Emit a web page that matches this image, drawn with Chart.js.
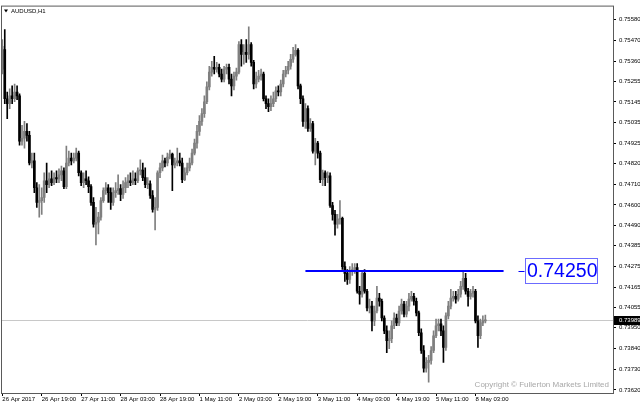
<!DOCTYPE html>
<html><head><meta charset="utf-8">
<script src="https://cdn.jsdelivr.net/npm/chart.js@4.4.1/dist/chart.umd.min.js"></script>
<style>html,body{margin:0;padding:0;background:#fff;overflow:hidden}#c{display:block}</style>
</head><body>
<canvas id="c" width="640" height="406"></canvas>
<script>
const symbolTitle = "AUDUSD,H1";
const copyrightText = "Copyright \u00A9 Fullerton Markets Limited";

const opens = [0.75319,0.75423,0.75162,0.75136,0.75177,0.75162,0.75198,0.75177,0.74937,0.74953,0.74989,0.74968,0.74822,0.74833,0.74691,0.74613,0.74623,0.74639,0.74728,0.74707,0.74738,0.74718,0.74744,0.74738,0.74759,0.74780,0.74697,0.74822,0.74848,0.74833,0.74848,0.74874,0.74770,0.74718,0.74738,0.74728,0.74697,0.74613,0.74498,0.74508,0.74535,0.74623,0.74676,0.74691,0.74665,0.74613,0.74665,0.74676,0.74686,0.74655,0.74691,0.74718,0.74728,0.74718,0.74738,0.74728,0.74780,0.74785,0.74744,0.74707,0.74712,0.74650,0.74576,0.74587,0.74770,0.74796,0.74833,0.74822,0.74853,0.74869,0.74812,0.74822,0.74833,0.74822,0.74733,0.74770,0.74796,0.74822,0.74874,0.74927,0.74989,0.75042,0.75083,0.75146,0.75225,0.75303,0.75329,0.75319,0.75329,0.75293,0.75266,0.75319,0.75329,0.75266,0.75230,0.75282,0.75303,0.75449,0.75397,0.75408,0.75397,0.75449,0.75355,0.75240,0.75266,0.75282,0.75293,0.75162,0.75136,0.75120,0.75136,0.75162,0.75204,0.75198,0.75240,0.75293,0.75313,0.75334,0.75371,0.75397,0.75418,0.75230,0.75162,0.75042,0.75110,0.75005,0.75031,0.74885,0.74927,0.74874,0.74733,0.74770,0.74744,0.74754,0.74597,0.74550,0.74498,0.74524,0.74529,0.74273,0.74237,0.74205,0.74247,0.74258,0.74268,0.74143,0.74127,0.74237,0.74143,0.74054,0.74064,0.73986,0.74038,0.74106,0.74090,0.74001,0.73933,0.73881,0.73892,0.73960,0.74001,0.73975,0.74038,0.74075,0.74022,0.74064,0.74101,0.74116,0.74090,0.74028,0.73923,0.73829,0.73735,0.73766,0.73777,0.73829,0.73907,0.73960,0.73970,0.73933,0.73845,0.74012,0.74064,0.74106,0.74116,0.74101,0.74127,0.74169,0.74211,0.74143,0.74116,0.74132,0.74143,0.73986,0.73907,0.73975,0.73986];
const highs = [0.75475,0.75528,0.75198,0.75214,0.75230,0.75240,0.75230,0.75188,0.75021,0.75042,0.75031,0.74989,0.74874,0.74874,0.74718,0.74707,0.74691,0.74770,0.74822,0.74770,0.74780,0.74770,0.74780,0.74791,0.74806,0.74796,0.74911,0.74885,0.74874,0.74874,0.74901,0.74885,0.74780,0.74770,0.74780,0.74749,0.74707,0.74639,0.74587,0.74561,0.74639,0.74691,0.74718,0.74707,0.74691,0.74691,0.74718,0.74759,0.74707,0.74728,0.74744,0.74759,0.74770,0.74780,0.74770,0.74796,0.74838,0.74822,0.74796,0.74744,0.74728,0.74676,0.74639,0.74780,0.74822,0.74864,0.74848,0.74874,0.74890,0.74874,0.74848,0.74901,0.74874,0.74848,0.74796,0.74822,0.74848,0.74895,0.74948,0.75021,0.75073,0.75110,0.75177,0.75251,0.75334,0.75360,0.75387,0.75355,0.75345,0.75319,0.75334,0.75345,0.75345,0.75293,0.75303,0.75324,0.75465,0.75475,0.75449,0.75475,0.75543,0.75460,0.75366,0.75303,0.75313,0.75319,0.75303,0.75177,0.75162,0.75177,0.75198,0.75225,0.75230,0.75261,0.75313,0.75334,0.75360,0.75397,0.75434,0.75449,0.75428,0.75240,0.75177,0.75136,0.75125,0.75057,0.75042,0.74953,0.74937,0.74885,0.74785,0.74780,0.74775,0.74770,0.74613,0.74571,0.74550,0.74623,0.74535,0.74299,0.74258,0.74273,0.74289,0.74289,0.74289,0.74169,0.74247,0.74258,0.74153,0.74101,0.74090,0.74064,0.74169,0.74132,0.74101,0.74012,0.73960,0.73933,0.73986,0.74028,0.74022,0.74064,0.74101,0.74090,0.74090,0.74132,0.74143,0.74132,0.74106,0.74038,0.73944,0.73855,0.73792,0.73803,0.73850,0.73933,0.73996,0.73996,0.73996,0.73960,0.74028,0.74090,0.74153,0.74143,0.74143,0.74153,0.74195,0.74247,0.74237,0.74158,0.74153,0.74169,0.74153,0.74012,0.73996,0.74012,0.74017];
const lows = [0.75293,0.75136,0.75057,0.75110,0.75136,0.75146,0.75157,0.74916,0.74916,0.74901,0.74937,0.74812,0.74796,0.74665,0.74587,0.74535,0.74550,0.74613,0.74665,0.74691,0.74702,0.74707,0.74718,0.74718,0.74728,0.74686,0.74686,0.74806,0.74812,0.74822,0.74833,0.74754,0.74702,0.74691,0.74707,0.74665,0.74597,0.74482,0.74388,0.74446,0.74519,0.74613,0.74655,0.74613,0.74576,0.74597,0.74639,0.74655,0.74623,0.74634,0.74665,0.74691,0.74702,0.74707,0.74707,0.74718,0.74759,0.74728,0.74691,0.74686,0.74634,0.74561,0.74467,0.74571,0.74744,0.74780,0.74801,0.74806,0.74843,0.74676,0.74796,0.74806,0.74806,0.74718,0.74728,0.74759,0.74780,0.74812,0.74864,0.74901,0.74968,0.75021,0.75063,0.75136,0.75209,0.75282,0.75293,0.75303,0.75277,0.75251,0.75251,0.75293,0.75240,0.75177,0.75209,0.75261,0.75293,0.75334,0.75345,0.75355,0.75371,0.75334,0.75214,0.75219,0.75251,0.75261,0.75151,0.75110,0.75094,0.75099,0.75120,0.75146,0.75177,0.75177,0.75225,0.75277,0.75293,0.75319,0.75355,0.75387,0.75214,0.75136,0.75015,0.75005,0.74989,0.74989,0.74874,0.74812,0.74848,0.74718,0.74702,0.74702,0.74718,0.74587,0.74519,0.74440,0.74477,0.74498,0.74258,0.74195,0.74179,0.74184,0.74226,0.74237,0.74132,0.74075,0.74111,0.74132,0.74038,0.74028,0.73933,0.73960,0.74028,0.74064,0.73986,0.73918,0.73818,0.73839,0.73871,0.73944,0.73960,0.73960,0.74022,0.74007,0.74007,0.74038,0.74090,0.74069,0.74012,0.73907,0.73813,0.73714,0.73714,0.73662,0.73756,0.73818,0.73897,0.73933,0.73907,0.73766,0.73829,0.73996,0.74049,0.74090,0.74080,0.74090,0.74111,0.74153,0.74127,0.74064,0.74101,0.74111,0.73975,0.73845,0.73892,0.73960,0.73975];
const closes = [0.75439,0.75162,0.75136,0.75177,0.75162,0.75198,0.75177,0.74937,0.74953,0.74989,0.74968,0.74822,0.74833,0.74691,0.74613,0.74623,0.74639,0.74728,0.74707,0.74738,0.74718,0.74744,0.74738,0.74759,0.74780,0.74697,0.74822,0.74848,0.74833,0.74848,0.74874,0.74770,0.74718,0.74738,0.74728,0.74697,0.74613,0.74498,0.74508,0.74535,0.74623,0.74676,0.74691,0.74665,0.74613,0.74665,0.74676,0.74686,0.74655,0.74691,0.74718,0.74728,0.74718,0.74738,0.74728,0.74780,0.74785,0.74744,0.74707,0.74712,0.74650,0.74576,0.74587,0.74770,0.74796,0.74833,0.74822,0.74853,0.74869,0.74812,0.74822,0.74833,0.74822,0.74733,0.74770,0.74796,0.74822,0.74874,0.74927,0.74989,0.75042,0.75083,0.75146,0.75225,0.75303,0.75329,0.75319,0.75329,0.75293,0.75266,0.75319,0.75329,0.75266,0.75230,0.75282,0.75303,0.75449,0.75397,0.75408,0.75397,0.75449,0.75355,0.75240,0.75266,0.75282,0.75293,0.75162,0.75136,0.75120,0.75136,0.75162,0.75204,0.75198,0.75240,0.75293,0.75313,0.75334,0.75371,0.75397,0.75418,0.75230,0.75162,0.75042,0.75110,0.75005,0.75031,0.74885,0.74927,0.74874,0.74733,0.74770,0.74744,0.74754,0.74597,0.74550,0.74498,0.74524,0.74529,0.74273,0.74237,0.74205,0.74247,0.74258,0.74268,0.74143,0.74127,0.74237,0.74143,0.74054,0.74064,0.73986,0.74038,0.74106,0.74090,0.74001,0.73933,0.73881,0.73892,0.73960,0.74001,0.73975,0.74038,0.74075,0.74022,0.74064,0.74101,0.74116,0.74090,0.74028,0.73923,0.73829,0.73735,0.73766,0.73777,0.73829,0.73907,0.73960,0.73970,0.73933,0.73845,0.74012,0.74064,0.74106,0.74116,0.74101,0.74127,0.74169,0.74211,0.74143,0.74116,0.74132,0.74143,0.73986,0.73907,0.73975,0.73986,0.73989];

const yTickValues = [0.75580,0.75470,0.75360,0.75255,0.75145,0.75035,0.74925,0.74820,0.74710,0.74600,0.74490,0.74385,0.74275,0.74165,0.74055,0.73950,0.73840,0.73730,0.73620];
const xTickIndex = [0,16,32,48,64,80,96,112,128,144,160,176,192];
const xTickLabels = ["26 Apr 2017","26 Apr 19:00","27 Apr 11:00","28 Apr 03:00","28 Apr 19:00","1 May 11:00","2 May 03:00","2 May 19:00","3 May 11:00","4 May 03:00","4 May 19:00","5 May 11:00","8 May 03:00"];

const levelPrice = 0.74250;
const levelFromBar = 123.0;
const levelToBar = 203.4;
const lastPrice = 0.73989;

const yMin = 0.73604, yMax = 0.75650;
const xMin = -0.12, xMax = 247.8;

const BULL = '#7f7f7f', BEAR = '#000000';
const SMALL_FONT = '"Liberation Sans", Arial, sans-serif';

const idx = closes.map((_, i) => i);
const candleColors = idx.map(i => closes[i] >= opens[i] ? BULL : BEAR);

const decor = {
  id: 'decor',
  beforeDatasetsDraw(chart) {
    const {ctx, chartArea: a, scales: {y}} = chart;
    const py = Math.round(y.getPixelForValue(lastPrice)) + 0.5;
    ctx.save();
    ctx.strokeStyle = '#c8c8c8'; ctx.lineWidth = 1;
    ctx.beginPath(); ctx.moveTo(a.left, py); ctx.lineTo(a.right, py); ctx.stroke();
    ctx.restore();
  },
  afterDatasetsDraw(chart) {
    const {ctx, chartArea: a, scales: {x, y}} = chart;
    ctx.save();
    const ly = y.getPixelForValue(levelPrice);
    const lx0 = x.getPixelForValue(levelFromBar), lx1 = x.getPixelForValue(levelToBar);
    ctx.strokeStyle = '#0000ff'; ctx.lineWidth = 2;
    ctx.beginPath(); ctx.moveTo(lx0, ly); ctx.lineTo(lx1, ly); ctx.stroke();
    const bx = Math.round(lx1) + 21.5, by = Math.round(ly) - 12.5;
    ctx.lineWidth = 1;
    ctx.strokeStyle = '#0000ff';
    ctx.beginPath(); ctx.moveTo(bx - 7, Math.round(ly) + 0.5); ctx.lineTo(bx - 1, Math.round(ly) + 0.5); ctx.stroke();
    ctx.fillStyle = '#ffffff'; ctx.fillRect(bx, by, 72, 25);
    ctx.strokeStyle = '#6b6bff'; ctx.strokeRect(bx, by, 72, 25);
    ctx.fillStyle = '#0000ff'; ctx.font = '19.5px "Liberation Sans", Arial, sans-serif';
    ctx.textBaseline = 'middle'; ctx.textAlign = 'left';
    ctx.fillText(levelPrice.toFixed(5), bx + 1.5, by + 13.5);
    ctx.fillStyle = '#000';
    ctx.beginPath(); ctx.moveTo(a.left + 2, a.top + 3); ctx.lineTo(a.left + 6, a.top + 3); ctx.lineTo(a.left + 4, a.top + 6); ctx.closePath(); ctx.fill();
    ctx.font = '6px ' + SMALL_FONT; ctx.textBaseline = 'middle';
    ctx.fillText(symbolTitle, a.left + 9, a.top + 4.5);
    ctx.fillStyle = '#a8a8a8'; ctx.font = '8px ' + SMALL_FONT;
    ctx.textAlign = 'right'; ctx.textBaseline = 'alphabetic';
    ctx.fillText(copyrightText, a.right - 4, a.bottom - 6);
    ctx.restore();
  },
  afterDraw(chart) {
    const {ctx, chartArea: a, scales: {y}, width} = chart;
    ctx.save();
    ctx.strokeStyle = '#5a5a5a'; ctx.lineWidth = 1;
    ctx.strokeRect(a.left - 0.5, a.top - 0.5, a.right - a.left + 1, a.bottom - a.top + 1);
    const py = Math.round(y.getPixelForValue(lastPrice));
    ctx.fillStyle = '#000'; ctx.fillRect(a.right + 1, py - 4, width - a.right - 1, 9);
    ctx.fillStyle = '#fff'; ctx.font = '6px ' + SMALL_FONT;
    ctx.textBaseline = 'middle'; ctx.textAlign = 'left';
    ctx.fillText(lastPrice.toFixed(5), a.right + 6, py + 0.5);
    ctx.restore();
  }
};

new Chart(document.getElementById('c'), {
  type: 'bar',
  data: {
    datasets: [
      { label: 'wicks', data: idx.map(i => ({x: i, y: [lows[i], highs[i]]})), backgroundColor: candleColors, barThickness: 1, grouped: false, order: 2 },
      { label: 'bodies', data: idx.map(i => ({x: i, y: [opens[i], closes[i]]})), backgroundColor: candleColors, barThickness: 2, minBarLength: 1, grouped: false, order: 1 }
    ]
  },
  options: {
    responsive: false, maintainAspectRatio: false, animation: false,
    layout: { padding: { left: 2, top: 2, right: 0, bottom: 0 } },
    plugins: { legend: { display: false }, tooltip: { enabled: false }, title: { display: false } },
    scales: {
      x: {
        type: 'linear', min: xMin, max: xMax, offset: false,
        grid: { offset: false, drawOnChartArea: false, drawTicks: true, tickLength: 3, color: '#000' },
        border: { display: false },
        ticks: {
          autoSkip: false, maxRotation: 0, minRotation: 0, align: 'start', padding: 0,
          color: '#000', font: { size: 6, family: SMALL_FONT },
          callback: (v) => { const k = xTickIndex.indexOf(v); return k >= 0 ? xTickLabels[k] : ''; }
        },
        afterBuildTicks: (s) => { s.ticks = xTickIndex.map(v => ({value: v})); },
        afterFit: (s) => { s.height = 13; }
      },
      y: {
        type: 'linear', position: 'right', min: yMin, max: yMax,
        grid: { drawOnChartArea: false, drawTicks: true, tickLength: 3, color: '#000' },
        border: { display: false },
        ticks: {
          autoSkip: false, padding: 3, color: '#000', font: { size: 6, family: SMALL_FONT },
          callback: (v) => Number(v).toFixed(5)
        },
        afterBuildTicks: (s) => { s.ticks = yTickValues.map(v => ({value: v})); },
        afterFit: (s) => { s.width = 27; }
      }
    }
  },
  plugins: [decor]
});
</script>
</body></html>
